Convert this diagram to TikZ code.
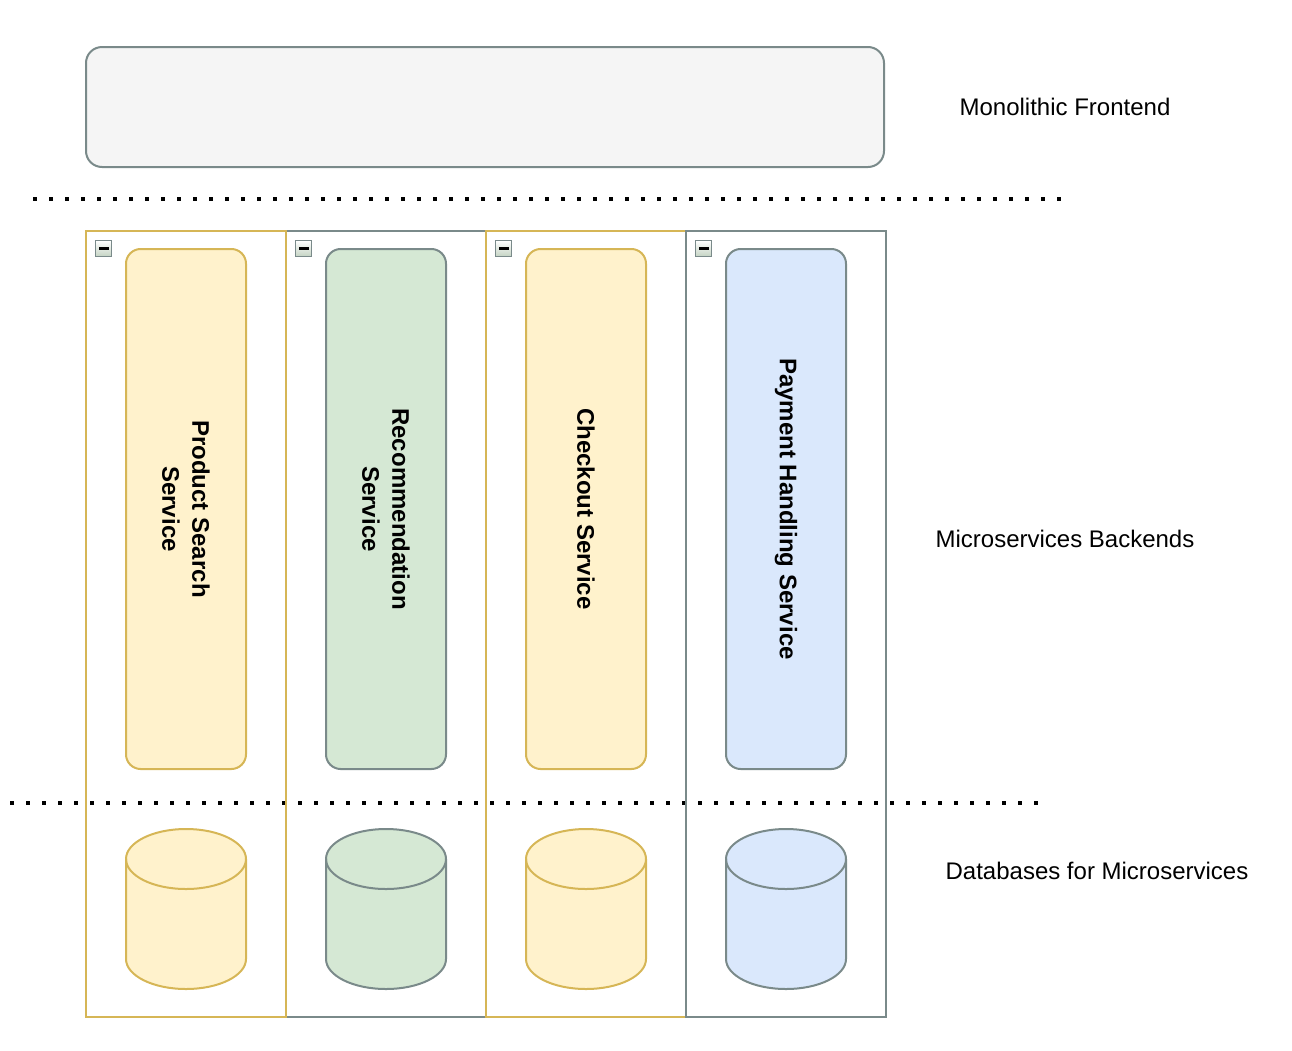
\documentclass[tikz,border=0pt]{standalone}
\usepackage{fontspec}
\setmainfont{Liberation Sans}
\usepackage{tikz}

\definecolor{orgFill}{RGB}{255,242,204}
\definecolor{orgLine}{RGB}{214,182,86}
\definecolor{grnFill}{RGB}{213,232,212}
\definecolor{bluFill}{RGB}{218,232,252}
\definecolor{greyLine}{RGB}{122,138,138}
\definecolor{feFill}{RGB}{245,245,245}

% database drawing: #1 centre x, #2 fill, #3 stroke
\newcommand{\dbcyl}[3]{%
  \filldraw[fill=#2,draw=#3,line width=1.5pt] (#1-60,859) -- (#1-60,959) arc[start angle=180,end angle=0,x radius=60,y radius=30] -- (#1+60,859) arc[start angle=0,end angle=-180,x radius=60,y radius=30] -- cycle;
  \draw[#3,line width=1.5pt] (#1+60,859) arc[start angle=0,end angle=180,x radius=60,y radius=30];
}

\begin{document}
\begin{tikzpicture}[x=0.75pt,y=0.75pt,yscale=-1,xscale=1,
  lane/.style={draw=#1,line width=1.5pt,minimum width=150pt,minimum height=589.5pt,inner sep=0pt},
  svc/.style={draw=#1,line width=1.5pt,rounded corners=11pt,rotate=-90,minimum width=390pt,minimum height=90pt,inner sep=0pt,align=center,font=\bfseries\fontsize{18}{22.5}\selectfont},
  collapser/.style={draw=greyLine,line width=1.2pt,top color=white,bottom color=grnFill!80!gray,minimum size=12pt,inner sep=0pt},
  dotline/.style={line width=3pt,dash pattern=on 3pt off 9pt},
  caption/.style={font=\fontsize{18}{22.5}\selectfont}
]
        \useasboundingbox (0,0) rectangle (1292,1050);

        %Shape: Rounded Rect [frontend]
        \node[draw=greyLine,fill=feFill,line width=1.5pt,rounded corners=12pt,minimum width=598.5pt,minimum height=90pt] (frontend) at (485,107) {};

        %Straight Lines [dotted separators]
        \draw[dotline] (33,199) -- (1062,199);
        \draw[dotline] (10,803) -- (1040,803);

        %Shape: Rectangle [lanes]
        \node[lane=greyLine] (laneB) at (386,624) {};
        \node[lane=orgLine] (laneA) at (186,624) {};
        \node[lane=orgLine] (laneC) at (586,624) {};
        \node[lane=greyLine] (laneD) at (786,624) {};

        %Shape: collapse icons
        \foreach \i in {0,1,2,3} {
          \node[collapser] (fold\i) at (103.5+200*\i,248.5) {};
          \fill (fold\i.center) ++(-5,-1.5) rectangle ++(10,3);
        }

        %Shape: Rounded Rect [services]
        \node[svc=orgLine,fill=orgFill] (search) at (186,509) {Product Search\\Service};
        \node[svc=greyLine,fill=grnFill] (recommend) at (386,509) {Recommendation\\Service};
        \node[svc=orgLine,fill=orgFill] (checkout) at (586,509) {Checkout Service};
        \node[svc=greyLine,fill=bluFill] (payment) at (786,509) {Payment Handling Service};

        %Shape: Can [databases]
        \dbcyl{186}{orgFill}{orgLine}
        \dbcyl{386}{grnFill}{greyLine}
        \dbcyl{586}{orgFill}{orgLine}
        \dbcyl{786}{bluFill}{greyLine}

        % Text Node
        \node[caption] (felabel) at (1065,107) {Monolithic Frontend};
        % Text Node
        \node[caption] (mslabel) at (1065,539) {Microservices Backends};
        % Text Node
        \node[caption] (dblabel) at (1097,871) {Databases for Microservices};

\end{tikzpicture}
\end{document}
